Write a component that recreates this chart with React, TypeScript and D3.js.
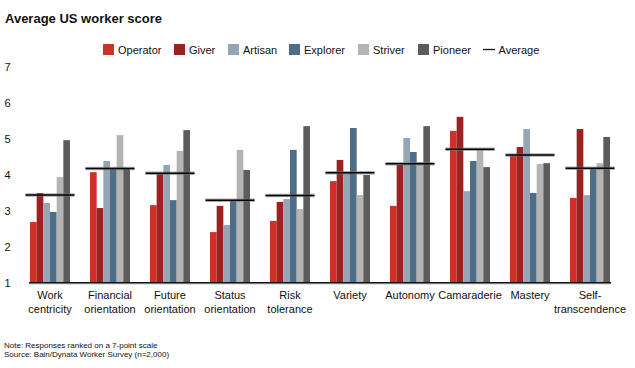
import React from 'react'
import * as d3 from 'd3'

// categories (label lines) and series values
const categories = [
  ['Work', 'centricity'],
  ['Financial', 'orientation'],
  ['Future', 'orientation'],
  ['Status', 'orientation'],
  ['Risk', 'tolerance'],
  ['Variety'],
  ['Autonomy'],
  ['Camaraderie'],
  ['Mastery'],
  ['Self-', 'transcendence'],
]
const seriesNames = ['Operator', 'Giver', 'Artisan', 'Explorer', 'Striver', 'Pioneer']
const operator = [2.69, 4.08, 3.16, 2.41, 2.72, 3.83, 3.14, 5.23, 4.55, 3.36]
const giver = [3.5, 3.08, 4.04, 3.14, 3.25, 4.42, 4.28, 5.62, 4.78, 5.28]
const artisan = [3.22, 4.39, 4.28, 2.61, 3.33, 4.05, 5.03, 3.55, 5.28, 3.44]
const explorer = [2.97, 4.19, 3.3, 3.3, 4.7, 5.31, 4.64, 4.39, 3.5, 4.19]
const striver = [3.94, 5.11, 4.67, 4.7, 3.05, 3.44, 4.36, 4.7, 4.31, 4.33]
const pioneer = [4.97, 4.19, 5.25, 4.14, 5.36, 4.0, 5.36, 4.22, 4.33, 5.06]
const average = [3.44, 4.18, 4.05, 3.3, 3.43, 4.06, 4.31, 4.72, 4.56, 4.19]
const yTicks = [1, 2, 3, 4, 5, 6, 7]

const colors = ['#d03127', '#9a2220', '#94a6b5', '#4e6d87', '#b4b4b4', '#5c5c5c']
const font = '"Liberation Sans", Arial, sans-serif'

export default function App() {
  const width = 635
  const height = 368
  const series = [operator, giver, artisan, explorer, striver, pioneer]

  /* scales */
  const x = d3.scaleBand<number>()
    .domain(d3.range(categories.length))
    .range([20, 620])
    .paddingInner(1 / 3)
    .paddingOuter(1 / 6)
  const xs = d3.scaleBand<number>()
    .domain(d3.range(seriesNames.length))
    .range([0, x.bandwidth()])
  const y = d3.scaleLinear().domain([1, 7]).range([282.7, 67.3])

  /* legend layout */
  const legendX = [103, 174, 228, 289, 358, 418]
  const avgLegendX = 483

  return (
    <svg width={width} height={height} style={{ position: 'absolute', left: 0, top: 0, fontFamily: font }}>
      <text x={5} y={22.5} fontSize={13} fontWeight="bold" fill="#111">Average US worker score</text>

      {/* legend */}
      {seriesNames.map((name, i) => (
        <g key={name}>
          <rect x={legendX[i]} y={44} width={11} height={11} fill={colors[i]} />
          <text x={legendX[i] + 15} y={53.5} fontSize={11} fill="#111">{name}</text>
        </g>
      ))}
      <line x1={avgLegendX} x2={avgLegendX + 12} y1={49.5} y2={49.5} stroke="#111" strokeWidth={1.3} />
      <text x={avgLegendX + 15.5} y={53.5} fontSize={11} fill="#111">Average</text>

      {/* y tick labels */}
      {yTicks.map(t => (
        <text key={t} x={4.5} y={y(t) + 4} fontSize={11} fill="#111">{t}</text>
      ))}

      {/* bars */}
      {categories.map((c, ci) => (
        <g key={ci} transform={`translate(${x(ci)},0)`}>
          {series.map((s, si) => (
            <rect key={si} x={xs(si)} width={xs.bandwidth()} y={y(s[ci])}
              height={y(1) - y(s[ci])} fill={colors[si]} />
          ))}
        </g>
      ))}

      {/* baseline */}
      <line x1={29} x2={611} y1={y(1) + 0.5} y2={y(1) + 0.5} stroke="#999" strokeWidth={2} />
      <line x1={29} x2={611} y1={y(1)} y2={y(1)} stroke="#111" strokeWidth={1.3} />

      {/* averages */}
      {average.map((a, ci) => (
        <g key={ci}>
          <line x1={(x(ci) as number) - 4.5} x2={(x(ci) as number) + x.bandwidth() + 4.5}
            y1={y(a)} y2={y(a)} stroke="#777" strokeOpacity={0.6} strokeWidth={3.5} />
          <line x1={(x(ci) as number) - 4.5} x2={(x(ci) as number) + x.bandwidth() + 4.5}
            y1={y(a)} y2={y(a)} stroke="#000" strokeWidth={1.5} />
        </g>
      ))}

      {/* category labels */}
      {categories.map((lines, ci) => (
        <text key={ci} x={(x(ci) as number) + x.bandwidth() / 2} y={299.3} fontSize={11}
          textAnchor="middle" fill="#111">
          {lines.map((l, li) => (
            <tspan key={li} x={(x(ci) as number) + x.bandwidth() / 2} dy={li === 0 ? 0 : 13.4}>{l}</tspan>
          ))}
        </text>
      ))}

      {/* notes */}
      <text x={4} y={348.3} fontSize={8} fill="#111">Note: Responses ranked on a 7-point scale</text>
      <text x={4} y={357.3} fontSize={8} fill="#111">Source: Bain/Dynata Worker Survey (n=2,000)</text>
    </svg>
  )
}
